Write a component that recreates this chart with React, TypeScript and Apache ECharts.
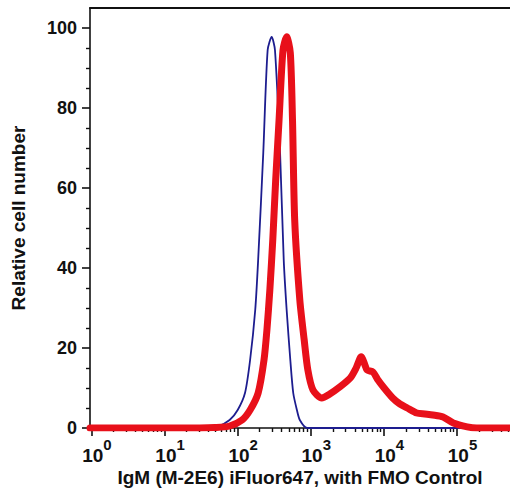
import React, { useEffect, useRef } from "react";
import * as echarts from "echarts";

// x values are log10(fluorescence intensity)
const fmoX = [-0.02, 1.55, 1.72, 1.89, 2.0, 2.1, 2.17, 2.24, 2.28, 2.35, 2.41, 2.465, 2.51, 2.58, 2.63, 2.67, 2.72, 2.76, 2.81, 2.85, 2.95, 5.725];
const fmoY = [0, 0, 0.3, 2, 4.5, 8.75, 17, 29.5, 42, 68.75, 94.5, 97.75, 94.5, 68.75, 42, 29.5, 17, 8.75, 4.5, 2, 0, 0];

const igmX = [-0.02, 1.48, 1.69, 1.89, 2.06, 2.17, 2.28, 2.36, 2.4, 2.44, 2.48, 2.52, 2.566, 2.62, 2.67, 2.72, 2.75, 2.78, 2.85, 2.91, 2.96, 3.03, 3.15, 3.26, 3.4, 3.54, 3.62, 3.69, 3.74, 3.77, 3.85, 3.92, 3.99, 4.12, 4.22, 4.32, 4.45, 4.56, 4.67, 4.81, 4.95, 5.14, 5.27, 5.725];
const igmY = [0, 0, 0.1, 0.5, 2, 4.5, 8.75, 17, 24.5, 34.5, 47, 62, 77, 94.5, 97.8, 93.75, 77, 52, 32, 22, 14.5, 9.5, 7.5, 8.5, 10.3, 12.5, 15, 17.8, 15.8, 14.5, 14, 12, 10.3, 7.5, 6, 5, 3.75, 3.5, 3.25, 2.75, 1.25, 0.3, 0, 0];

const xDecades = [0, 1, 2, 3, 4, 5];
const yMajor = [0, 20, 40, 60, 80, 100];
const yMinor = [5, 10, 15, 25, 30, 35, 45, 50, 55, 65, 70, 75, 85, 90, 95];

const X_MIN = -0.02;
const X_MAX = 5.725;
const Y_MAX = 105;

const xMinor: number[] = [];
xDecades.forEach((d) => {
  for (let k = 2; k <= 9; k++) {
    const v = d + Math.log10(k);
    if (v < X_MAX) xMinor.push(v);
  }
});

const zip = (xs: number[], ys: number[]) => xs.map((x, i) => [x, ys[i]]);

export default function App() {
  const ref = useRef<HTMLDivElement>(null);
  useEffect(() => {
    if (!ref.current) return;
    const chart = echarts.init(ref.current, null, { renderer: "svg" });
    const axisColor = "#111";
    const font = "'Liberation Sans', Arial, Helvetica, sans-serif";
    chart.setOption({
      animation: false,
      backgroundColor: "#fff",
      grid: { left: 90, right: 0, top: 8, bottom: 67, containLabel: false, outerBoundsMode: "none" },
      xAxis: [
        {
          type: "value",
          min: X_MIN,
          max: X_MAX,
          position: "bottom",
          axisLine: { show: true, onZero: false, lineStyle: { color: axisColor, width: 1.6 } },
          axisTick: { show: true, customValues: xDecades, length: 8, lineStyle: { color: axisColor, width: 1.6 } },
          splitLine: { show: false },
          axisLabel: {
            customValues: xDecades,
            margin: 9,
            align: "center",
            padding: [0, 0, 0, 11],
            formatter: (v: number) => `{b|10}{s|${Math.round(v)}}`,
            rich: {
              b: { fontFamily: font, fontWeight: "bold", fontSize: 19, color: "#111", lineHeight: 28, verticalAlign: "bottom" },
              s: { fontFamily: font, fontWeight: "bold", fontSize: 15, color: "#111", lineHeight: 16, verticalAlign: "top" },
            },
          },
          name: "IgM (M-2E6) iFluor647, with FMO Control",
          nameLocation: "middle",
          nameGap: 40,
          nameMoveOverlap: false,
          nameTextStyle: { fontFamily: font, fontWeight: "bold", fontSize: 19, color: "#111" },
        },
        {
          type: "value",
          min: X_MIN,
          max: X_MAX,
          position: "bottom",
          axisLine: { show: false, onZero: false },
          axisTick: { show: true, customValues: xMinor, length: 4, lineStyle: { color: axisColor, width: 1.4 } },
          axisLabel: { show: false },
          splitLine: { show: false },
        },
        {
          type: "value",
          min: X_MIN,
          max: X_MAX,
          position: "top",
          axisLine: { show: true, onZero: false, lineStyle: { color: axisColor, width: 2 } },
          axisTick: { show: false },
          axisLabel: { show: false },
          splitLine: { show: false },
        },
      ],
      yAxis: [
        {
          type: "value",
          min: 0,
          max: Y_MAX,
          position: "left",
          axisLine: { show: true, onZero: false, lineStyle: { color: axisColor, width: 1.6 } },
          axisTick: { show: true, customValues: yMajor, length: 8, lineStyle: { color: axisColor, width: 1.6 } },
          splitLine: { show: false },
          axisLabel: {
            customValues: yMajor,
            margin: 13,
            fontFamily: font,
            fontWeight: "bold",
            fontSize: 18,
            color: "#111",
          },
          name: "Relative cell number",
          nameLocation: "middle",
          nameGap: 62,
          nameMoveOverlap: false,
          nameTextStyle: { fontFamily: font, fontWeight: "bold", fontSize: 19, color: "#111" },
        },
        {
          type: "value",
          min: 0,
          max: Y_MAX,
          position: "left",
          axisLine: { show: false, onZero: false },
          axisTick: { show: true, customValues: yMinor, length: 4, lineStyle: { color: axisColor, width: 1.4 } },
          axisLabel: { show: false },
          splitLine: { show: false },
        },
      ],
      series: [
        {
          name: "FMO Control",
          type: "line",
          xAxisIndex: 0,
          yAxisIndex: 0,
          data: zip(fmoX, fmoY),
          showSymbol: false,
          smooth: 0.25,
          lineStyle: { color: "#1d1d8f", width: 1.8 },
          z: 2,
        },
        {
          name: "IgM (M-2E6) iFluor647",
          type: "line",
          xAxisIndex: 0,
          yAxisIndex: 0,
          data: zip(igmX, igmY),
          showSymbol: false,
          smooth: 0.25,
          lineStyle: { color: "#e8101a", width: 7, join: "round", cap: "round" },
          z: 3,
        },
      ],
    });
    return () => chart.dispose();
  }, []);
  return <div ref={ref} style={{ position: "absolute", left: 0, top: 0, width: 510, height: 495 }} />;
}
